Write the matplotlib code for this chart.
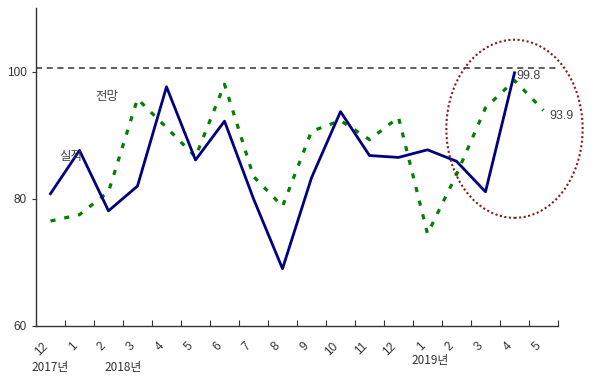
import numpy as np
import matplotlib.pyplot as plt
from matplotlib.patches import Ellipse
import matplotlib.transforms as mtransforms

plt.rcParams['font.family'] = ['Noto Sans CJK KR', 'DejaVu Sans']

# data
months = ["12", "1", "2", "3", "4", "5", "6", "7", "8", "9", "10", "11", "12",
          "1", "2", "3", "4", "5"]
actual = [80.8, 87.6, 78.1, 82.0, 97.6, 86.1, 92.2, 80.0, 69.0, 83.3, 93.7,
          86.8, 86.5, 87.7, 85.9, 81.1, 99.8]
outlook = [76.5, 77.5, 81.1, 95.7, 91.2, 86.6, 98.0, 83.5, 78.8, 90.6, 92.3,
           89.3, 92.8, 74.5, 83.8, 94.3, 98.6, 93.9]
years = ["2017년", "2018년", "2019년"]
year_pos = [0, 2.5, 13.1]
ref_level = 100.6

fig = plt.figure(figsize=(6, 3.78), dpi=100)
ax = fig.add_axes([0.06, 0.1376, 0.87, 0.8414])

x_act = np.arange(len(actual))
x_out = np.arange(len(outlook))

ax.axhline(ref_level, color='#333333', lw=1.1, ls=(0, (4, 3)), zorder=1)
ax.plot(x_out, outlook, color='#008000', lw=2.3, ls=(0, (1.6, 2.8)), zorder=2)
ax.plot(x_act, actual, color='#000080', lw=2.0, zorder=3)

# circle round the last months
ell = Ellipse((16.0, 91.0), 4.7, 28.0, fill=False, edgecolor='#8B1A1A',
              lw=1.5, ls=(0, (1, 1.2)), zorder=4, clip_on=False)
ax.add_patch(ell)

txt = dict(color='#444444', fontsize=9)
ax.text(0.7, 86.6, "실적", ha='center', va='center', **txt)
ax.text(1.95, 96.1, "전망", ha='center', va='center', **txt)
ax.text(16.05, 99.3, "99.8", ha='left', va='center', family='Liberation Sans', **txt)
ax.text(17.2, 93.0, "93.9", ha='left', va='center', family='Liberation Sans', **txt)

ax.set_xlim(-0.5, 17.5)
ax.set_ylim(60, 110)
ax.set_yticks([60, 80, 100])
ax.set_yticklabels(["60", "80", "100"], family='Liberation Sans')
ax.tick_params(axis='y', direction='out', length=3, labelsize=8.5,
               labelcolor='#333333', color='#333333')

ax.set_xticks(np.arange(-0.5, 18, 1))
ax.set_xticklabels([])
ax.tick_params(axis='x', which='major', direction='in', length=4, color='#333333')
ax.set_xticks(np.arange(len(months)), minor=True)
ax.set_xticklabels(months, minor=True, rotation=45, ha='right',
                   rotation_mode='anchor', family='Liberation Sans')
ax.tick_params(axis='x', which='minor', length=0, labelsize=8.5,
               labelcolor='#333333', pad=10)
shift = mtransforms.ScaledTranslation(-6 / 72, 0, fig.dpi_scale_trans)
for lab in ax.get_xticklabels(minor=True):
    lab.set_transform(lab.get_transform() + shift)

trans = mtransforms.blended_transform_factory(ax.transData, ax.transAxes)
year_y = [-0.132, -0.132, -0.11]
for name, xp, yy in zip(years, year_pos, year_y):
    ax.text(xp, yy, name, transform=trans, ha='center', va='center',
            color='#333333', fontsize=8.5)

for s in ['top', 'right']:
    ax.spines[s].set_visible(False)
for s in ['left', 'bottom']:
    ax.spines[s].set_color('#333333')
    ax.spines[s].set_linewidth(1.0)

fig.savefig("out.png", dpi=100)
